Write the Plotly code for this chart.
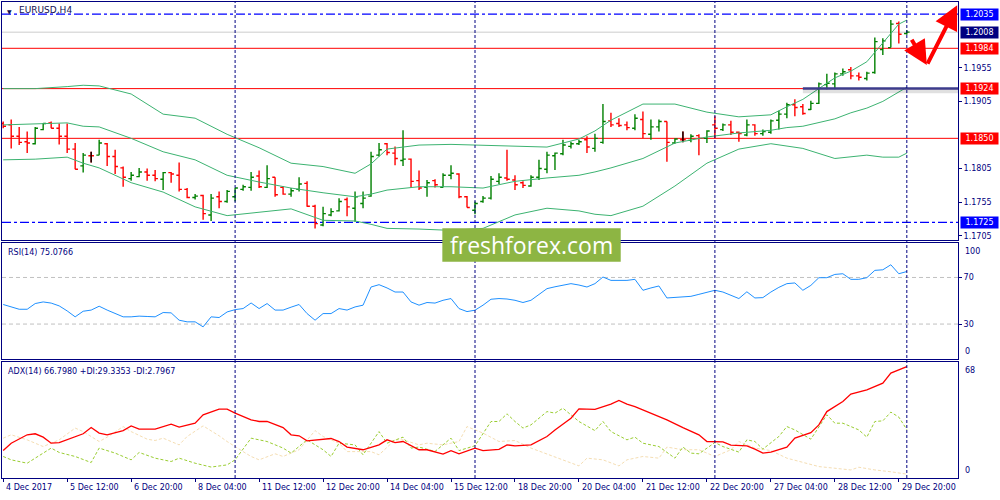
import plotly.graph_objects as go

NAVY = "#000080"
FONT = "DejaVu Sans"

# EURUSD H4 bars, index 0 = 4 Dec 2017, last = current bar
opens = [1.1872, 1.1870, 1.1853, 1.1845, 1.1842, 1.1863, 1.1873, 1.1865, 1.1853, 1.1834,
         1.1809, 1.1824, 1.1825, 1.1842, 1.1823, 1.1806, 1.1790, 1.1793, 1.1800, 1.1795,
         1.1789, 1.1799, 1.1795, 1.1774, 1.1762, 1.1765, 1.1736, 1.1763, 1.1756, 1.1763,
         1.1774, 1.1777, 1.1794, 1.1777, 1.1792, 1.1777, 1.1767, 1.1774, 1.1783, 1.1749,
         1.1721, 1.1736, 1.1742, 1.1759, 1.1746, 1.1753, 1.1764, 1.1825, 1.1842, 1.1828,
         1.1817, 1.1819, 1.1787, 1.1777, 1.1787, 1.1777, 1.1795, 1.1797, 1.1763, 1.1743,
         1.1756, 1.1761, 1.1786, 1.1791, 1.1788, 1.1784, 1.1779, 1.1792, 1.1804, 1.1824,
         1.1827, 1.1838, 1.1842, 1.1848, 1.1835, 1.1844, 1.1876, 1.1872, 1.1870, 1.1865,
         1.1878, 1.1856, 1.1867, 1.1875, 1.1843, 1.1848, 1.1847, 1.1854, 1.1850, 1.1870,
         1.1863, 1.1870, 1.1859, 1.1855, 1.1870, 1.1857, 1.1859, 1.1877, 1.1886, 1.1900,
         1.1897, 1.1893, 1.1902, 1.1930, 1.1931, 1.1946, 1.1952, 1.1943, 1.1939, 1.1948,
         1.1982, 1.1985, 1.2021, 1.2006]
highs = [1.1875, 1.1878, 1.1867, 1.1860, 1.1867, 1.1873, 1.1875, 1.1872, 1.1872, 1.1843,
         1.1828, 1.1830, 1.1848, 1.1843, 1.1833, 1.1808, 1.1800, 1.1806, 1.1805, 1.1803,
         1.1800, 1.1800, 1.1814, 1.1776, 1.1767, 1.1766, 1.1767, 1.1771, 1.1773, 1.1776,
         1.1781, 1.1800, 1.1802, 1.1810, 1.1792, 1.1779, 1.1776, 1.1792, 1.1786, 1.1751,
         1.1748, 1.1746, 1.1761, 1.1762, 1.1771, 1.1771, 1.1830, 1.1843, 1.1843, 1.1838,
         1.1862, 1.1820, 1.1802, 1.1788, 1.1789, 1.1798, 1.1810, 1.1798, 1.1764, 1.1756,
         1.1764, 1.1794, 1.1798, 1.1833, 1.1795, 1.1786, 1.1795, 1.1818, 1.1830, 1.1829,
         1.1848, 1.1845, 1.1848, 1.1853, 1.1857, 1.1901, 1.1888, 1.1880, 1.1875, 1.1886,
         1.1890, 1.1878, 1.1878, 1.1875, 1.1850, 1.1860, 1.1856, 1.1856, 1.1862, 1.1883,
         1.1872, 1.1876, 1.1860, 1.1878, 1.1871, 1.1863, 1.1878, 1.1891, 1.1903, 1.1908,
         1.1901, 1.1906, 1.1933, 1.1946, 1.1948, 1.1954, 1.1956, 1.1948, 1.1949, 1.2000,
         1.1999, 1.2026, 1.2024, 1.2011]
lows = [1.1865, 1.1835, 1.1840, 1.1828, 1.1841, 1.1862, 1.1865, 1.1841, 1.1828, 1.1804,
        1.1799, 1.1814, 1.1825, 1.1809, 1.1797, 1.1778, 1.1787, 1.1792, 1.1787, 1.1786,
        1.1773, 1.1784, 1.1771, 1.1761, 1.1759, 1.1729, 1.1727, 1.1746, 1.1754, 1.1756,
        1.1772, 1.1772, 1.1776, 1.1776, 1.1763, 1.1766, 1.1763, 1.1771, 1.1748, 1.1716,
        1.1719, 1.1734, 1.1741, 1.1734, 1.1726, 1.1746, 1.1763, 1.1823, 1.1825, 1.1810,
        1.1809, 1.1776, 1.1773, 1.1763, 1.1777, 1.1777, 1.1789, 1.1761, 1.1747, 1.1737,
        1.1754, 1.1759, 1.1782, 1.1787, 1.1773, 1.1776, 1.1778, 1.1788, 1.1798, 1.1803,
        1.1825, 1.1835, 1.1840, 1.1828, 1.1830, 1.1842, 1.1867, 1.1867, 1.1862, 1.1862,
        1.1850, 1.1848, 1.1860, 1.1815, 1.1842, 1.1844, 1.1844, 1.1825, 1.1843, 1.1850,
        1.1861, 1.1855, 1.1845, 1.1853, 1.1854, 1.1854, 1.1857, 1.1863, 1.1880, 1.1883,
        1.1885, 1.1892, 1.1901, 1.1923, 1.1923, 1.1943, 1.1938, 1.1936, 1.1936, 1.1946,
        1.1974, 1.1985, 1.1991, 1.2004]
closes = [1.1868, 1.1853, 1.1844, 1.1843, 1.1865, 1.1872, 1.1865, 1.1853, 1.1834, 1.1804,
          1.1825, 1.1824, 1.1843, 1.1823, 1.1808, 1.1792, 1.1795, 1.1800, 1.1795, 1.1790,
          1.1799, 1.1797, 1.1774, 1.1762, 1.1764, 1.1738, 1.1761, 1.1756, 1.1771, 1.1776,
          1.1778, 1.1792, 1.1778, 1.1790, 1.1766, 1.1767, 1.1772, 1.1782, 1.1749, 1.1723,
          1.1738, 1.1741, 1.1756, 1.1748, 1.1763, 1.1761, 1.1823, 1.1833, 1.1829, 1.1820,
          1.1819, 1.1786, 1.1776, 1.1784, 1.1781, 1.1795, 1.1798, 1.1763, 1.1747, 1.1753,
          1.1761, 1.1789, 1.1792, 1.1789, 1.1781, 1.1780, 1.1792, 1.1805, 1.1825, 1.1828,
          1.1840, 1.1842, 1.1845, 1.1837, 1.1850, 1.1875, 1.1870, 1.1869, 1.1866, 1.1880,
          1.1857, 1.1867, 1.1875, 1.1844, 1.1849, 1.1848, 1.1853, 1.1850, 1.1861, 1.1865,
          1.1870, 1.1859, 1.1857, 1.1870, 1.1857, 1.1860, 1.1876, 1.1886, 1.1900, 1.1896,
          1.1887, 1.1902, 1.1931, 1.1932, 1.1946, 1.1949, 1.1943, 1.1941, 1.1947, 1.1994,
          1.1995, 1.2020, 1.2005, 1.2008]

band_bars = [0, 4, 8, 10, 12, 16, 20, 24, 28, 32, 36, 40, 44, 46, 48, 52, 56, 60, 64, 68,
             72, 74, 76, 80, 84, 88, 92, 96, 98, 100, 104, 106, 108, 110, 112, 113]
band_upper = [1.1924, 1.1924, 1.1927, 1.1929, 1.1928, 1.1916, 1.1886, 1.1880, 1.1856, 1.1836,
              1.1813, 1.1808, 1.1798, 1.1812, 1.1834, 1.1840, 1.1841, 1.1840, 1.1839, 1.1837,
              1.1849, 1.1861, 1.1877, 1.1901, 1.1901, 1.1889, 1.1882, 1.1885, 1.1897, 1.1908,
              1.1940, 1.1950, 1.1964, 1.1992, 1.2020, 1.2026]
band_mid = [1.1870, 1.1871, 1.1873, 1.1868, 1.1867, 1.1850, 1.1830, 1.1818, 1.1795, 1.1785,
            1.1776, 1.1769, 1.1763, 1.1767, 1.1773, 1.1778, 1.1778, 1.1776, 1.1786, 1.1791,
            1.1795, 1.1800, 1.1806, 1.1820, 1.1843, 1.1852, 1.1858, 1.1862, 1.1866, 1.1868,
            1.1879, 1.1888, 1.1895, 1.1905, 1.1919, 1.1926]
band_lower = [1.1818, 1.1819, 1.1822, 1.1813, 1.1806, 1.1784, 1.1770, 1.1748, 1.1735, 1.1740,
              1.1745, 1.1728, 1.1727, 1.1722, 1.1716, 1.1715, 1.1713, 1.1716, 1.1736, 1.1746,
              1.1742, 1.1737, 1.1735, 1.1749, 1.1779, 1.1813, 1.1834, 1.1842, 1.1839, 1.1835,
              1.1820, 1.1822, 1.1825, 1.1822, 1.1822, 1.1828]

# RSI(14), one value per bar
rsi = [46.8, 44.7, 42.7, 42.7, 47.6, 49.0, 48.0, 45.6, 41.3, 36.2,
       41.0, 42.0, 45.3, 42.0, 39.0, 36.2, 36.2, 36.8, 36.5, 36.2,
       39.9, 39.6, 33.3, 31.9, 31.9, 27.6, 36.2, 35.6, 40.4, 42.4,
       43.3, 48.1, 43.3, 47.6, 42.0, 42.0, 44.5, 46.8, 39.0, 33.3,
       39.0, 39.0, 43.3, 42.0, 44.7, 46.2, 61.8, 63.8, 61.0, 57.5,
       57.5, 49.0, 46.2, 48.5, 48.0, 50.4, 51.9, 43.3, 40.7, 41.9,
       46.2, 51.3, 51.9, 51.5, 50.4, 48.5, 50.4, 55.5, 60.4, 62.0,
       63.2, 64.7, 63.5, 61.8, 64.7, 70.4, 67.5, 67.5, 67.5, 68.4,
       59.0, 61.0, 62.7, 52.4, 53.0, 53.3, 53.8, 55.5, 57.0, 59.0,
       57.5, 54.5, 51.9, 57.7, 52.4, 52.7, 57.5, 61.5, 64.7, 65.3,
       59.0, 63.2, 69.8, 69.8, 72.6, 73.2, 68.4, 68.4, 69.8, 76.1,
       76.6, 80.9, 73.2, 75.1]
rsi_levels = [30, 70]

adx_bars = [0, 1, 3, 4, 5, 6, 7, 8, 10, 11, 12, 13, 15, 16, 17, 19, 21, 22, 24, 25,
            27, 28, 29, 31, 32, 33, 35, 36, 37, 38, 40, 41, 42, 43, 45, 47, 48, 49, 50, 52,
            53, 55, 56, 57, 59, 60, 62, 63, 64, 66, 68, 69, 71, 72, 74, 76, 77, 78, 79, 81,
            83, 85, 87, 88, 90, 91, 93, 94, 95, 96, 98, 99, 101, 102, 103, 105, 106, 108, 110, 111,
            113]
adx = [16.8, 21.2, 26.2, 26.8, 24.8, 21.2, 21.6, 23.2, 26.8, 30.5, 27.2, 26.2, 28.7, 31.5, 29.6, 29.6, 32.5, 30.8, 33.1, 38.1,
       41.5, 41.5, 39.1, 35.1, 34.1, 34.1, 30.5, 26.2, 25.6, 22.6, 23.6, 24.0, 22.2, 18.9, 17.3, 20.2, 23.2, 21.6, 22.2, 17.3,
       17.3, 14.7, 16.8, 14.9, 18.3, 16.8, 17.5, 20.2, 19.6, 20.2, 25.2, 29.1, 36.1, 41.6, 41.3, 44.4, 46.6, 44.4, 43.0, 39.1,
       35.1, 30.5, 26.2, 22.2, 22.0, 20.0, 19.6, 17.7, 15.3, 15.9, 18.9, 24.2, 27.5, 32.1, 40.0, 46.0, 50.4, 52.9, 56.9, 62.9,
       66.8]
pdi_bars = [0, 1, 3, 4, 6, 7, 9, 11, 12, 14, 16, 17, 19, 21, 22, 24, 26, 28, 29, 31,
            32, 33, 35, 36, 38, 40, 41, 42, 44, 45, 47, 48, 50, 51, 52, 54, 56, 57, 59, 61,
            62, 63, 64, 65, 66, 68, 69, 70, 72, 74, 75, 76, 78, 79, 80, 82, 84, 85, 86, 87,
            89, 90, 92, 93, 94, 95, 97, 98, 99, 101, 103, 104, 105, 107, 108, 109, 110, 111, 112, 113]
pdi = [13.3, 11.3, 9.3, 12.3, 18.3, 15.7, 13.3, 9.7, 18.3, 15.3, 11.3, 15.7, 12.3, 10.3, 12.3, 9.3, 7.0, 8.3, 11.3, 24.2,
       23.0, 22.2, 18.3, 15.3, 23.2, 17.3, 13.3, 21.2, 20.2, 14.3, 28.1, 21.2, 24.8, 18.3, 18.9, 16.3, 24.2, 16.8, 19.7, 34.1,
       34.1, 38.7, 34.1, 30.2, 32.1, 40.0, 39.1, 42.0, 34.1, 28.7, 34.1, 28.1, 23.2, 24.8, 21.2, 19.2, 12.3, 18.9, 15.3, 14.9,
       21.6, 19.2, 15.9, 23.2, 22.2, 17.7, 25.2, 31.1, 29.1, 23.6, 38.1, 33.1, 33.1, 29.1, 24.8, 34.1, 34.5, 39.7, 36.7, 29.3]
mdi_bars = [0, 1, 3, 4, 5, 6, 7, 9, 10, 12, 13, 15, 16, 18, 19, 20, 22, 23, 25, 27,
            28, 30, 31, 32, 34, 35, 37, 39, 40, 42, 43, 46, 47, 49, 50, 52, 53, 55, 57, 58,
            60, 62, 64, 66, 68, 70, 72, 73, 75, 77, 78, 80, 82, 83, 85, 87, 89, 91, 92, 94,
            96, 98, 100, 102, 104, 106, 107, 109, 111, 113]
mdi = [24.2, 26.2, 23.2, 21.2, 19.2, 21.2, 23.2, 30.2, 28.1, 22.2, 24.8, 31.1, 28.1, 23.6, 22.8, 24.2, 20.2, 25.2, 31.5, 25.6,
       22.2, 16.2, 13.3, 11.3, 14.9, 13.3, 17.3, 28.7, 25.2, 21.2, 16.2, 16.2, 14.3, 23.2, 23.2, 20.2, 21.2, 20.2, 22.2, 31.1,
       27.2, 22.2, 22.8, 18.3, 14.7, 10.9, 7.7, 12.3, 11.3, 7.7, 11.3, 13.3, 12.3, 18.9, 17.3, 17.3, 13.3, 17.3, 22.2, 18.3,
       16.8, 12.3, 9.7, 7.3, 6.3, 5.3, 6.9, 5.3, 4.2, 2.8]

# chart objects
red_levels = [1.1984, 1.1924, 1.1850]
blue_levels = [1.2035, 1.1725]
bid_level = 1.2008
trend_level = 1.1924
trend_start = 100
separator_bars = [29, 59, 89, 113]
arrow_x = [113.5, 115.5, 119.3]
arrow_y = [1.1999, 1.1959, 1.2048]

price_ticks = [1.1955, 1.1905, 1.1805, 1.1755, 1.1705]
price_boxes = [(1.2035, "#0000ff"), (1.2008, NAVY), (1.1984, "#ff0000"),
               (1.1924, "#ff0000"), (1.1850, "#ff0000"), (1.1725, "#0000ff")]

label_bars = [0, 8, 16, 24, 32, 40, 48, 56, 64, 72, 80, 88, 96, 104, 112]
label_text = ["4 Dec 2017", "5 Dec 12:00", "6 Dec 20:00", "8 Dec 04:00", "11 Dec 12:00",
              "12 Dec 20:00", "14 Dec 04:00", "15 Dec 12:00", "18 Dec 20:00", "20 Dec 04:00",
              "21 Dec 12:00", "22 Dec 20:00", "27 Dec 04:00", "28 Dec 12:00", "29 Dec 20:00"]

x_range = [-0.15, 119.4]
bars = list(range(len(closes)))

fig = go.Figure()

for vals in (band_upper, band_mid, band_lower):
    fig.add_trace(go.Scatter(x=band_bars, y=vals, mode="lines", hoverinfo="skip",
                             line=dict(color="#3cb371", width=1), xaxis="x", yaxis="y"))

fig.add_trace(go.Ohlc(x=bars, open=opens, high=highs, low=lows, close=closes,
                      increasing=dict(line=dict(color="#008000", width=1.4)),
                      decreasing=dict(line=dict(color="#ff0000", width=1.4)),
                      tickwidth=0.35, hoverinfo="skip", xaxis="x", yaxis="y"))

# doji bars are drawn black
flat = [i for i in bars if opens[i] == closes[i]]
gap = min(b - a for a, b in zip(flat, flat[1:]))
fig.add_trace(go.Ohlc(x=flat, open=[opens[i] for i in flat], high=[highs[i] for i in flat],
                      low=[lows[i] for i in flat], close=[closes[i] for i in flat],
                      increasing=dict(line=dict(color="black", width=1.4)),
                      decreasing=dict(line=dict(color="black", width=1.4)),
                      tickwidth=0.35 / gap, hoverinfo="skip", xaxis="x", yaxis="y"))

fig.add_trace(go.Scatter(x=bars, y=rsi, mode="lines", hoverinfo="skip",
                         line=dict(color="#1e90ff", width=1), xaxis="x2", yaxis="y2"))

fig.add_trace(go.Scatter(x=mdi_bars, y=mdi, mode="lines", hoverinfo="skip",
                         line=dict(color="#f5deb3", width=1, dash="3px,2px"), xaxis="x3", yaxis="y3"))
fig.add_trace(go.Scatter(x=pdi_bars, y=pdi, mode="lines", hoverinfo="skip",
                         line=dict(color="#9acd32", width=1, dash="3px,2px"), xaxis="x3", yaxis="y3"))
fig.add_trace(go.Scatter(x=adx_bars, y=adx, mode="lines", hoverinfo="skip",
                         line=dict(color="#ff0000", width=1.3), xaxis="x3", yaxis="y3"))

frame = dict(showline=True, mirror=True, linecolor=NAVY, linewidth=1,
             showgrid=False, zeroline=False)

fig.update_layout(
    width=1000, height=500,
    margin=dict(l=2, r=42, t=2, b=22),
    paper_bgcolor="white", plot_bgcolor="white",
    showlegend=False,
    font=dict(family=FONT, size=8, color=NAVY),
    xaxis=dict(domain=[0, 1], anchor="y", range=x_range, showticklabels=False,
               rangeslider=dict(visible=False), **frame),
    xaxis2=dict(domain=[0, 1], anchor="y2", matches="x", showticklabels=False, **frame),
    xaxis3=dict(domain=[0, 1], anchor="y3", matches="x", showticklabels=False,
                ticks="outside", tickvals=label_bars, ticklen=3, tickcolor=NAVY,
                rangeslider=dict(visible=False), **frame),
    yaxis=dict(domain=[0.5, 1], range=[1.16987, 1.20529], side="right",
               tickvals=price_ticks, ticktext=[f"{v:.4f}" for v in price_ticks],
               ticks="outside", ticklen=3, tickcolor=NAVY, **frame),
    yaxis2=dict(domain=[0.25, 0.4947], range=[0, 100], side="right",
                tickvals=rsi_levels, ticks="outside", ticklen=3, tickcolor=NAVY, **frame),
    yaxis3=dict(domain=[0, 0.2437], range=[0.5, 69.5], side="right",
                showticklabels=False, **frame),
)

# horizontal levels
for lv in red_levels:
    fig.add_shape(type="line", xref="paper", x0=0, x1=1, yref="y", y0=lv, y1=lv,
                  line=dict(color="#ff0000", width=1), layer="below")
for lv in blue_levels:
    fig.add_shape(type="line", xref="paper", x0=0, x1=1, yref="y", y0=lv, y1=lv,
                  line=dict(color="#0000ff", width=1.2, dash="dashdot"), layer="below")
fig.add_shape(type="line", xref="paper", x0=0, x1=1, yref="y", y0=bid_level, y1=bid_level,
              line=dict(color="#cccccc", width=1), layer="below")
fig.add_shape(type="line", xref="x", x0=trend_start, x1=x_range[1], yref="y",
              y0=trend_level - 0.0004, y1=trend_level - 0.0004,
              line=dict(color="rgba(0,0,0,0.12)", width=4))
fig.add_shape(type="line", xref="x", x0=trend_start, x1=x_range[1], yref="y",
              y0=trend_level, y1=trend_level, line=dict(color="#3c3c8c", width=2.5))

for lv in rsi_levels:
    fig.add_shape(type="line", xref="paper", x0=0, x1=1, yref="y2", y0=lv, y1=lv,
                  line=dict(color="#c0c0c0", width=1, dash="4px,3px"), layer="below")

# period separators through all panels
for b in separator_bars:
    fig.add_shape(type="line", xref="x", x0=b, x1=b, yref="paper", y0=0, y1=1,
                  line=dict(color=NAVY, width=1, dash="3px,2px"))

# red forecast arrows
for i in range(len(arrow_x) - 1):
    fig.add_annotation(x=arrow_x[i + 1], y=arrow_y[i + 1], ax=arrow_x[i], ay=arrow_y[i],
                       xref="x", yref="y", axref="x", ayref="y", text="", showarrow=True,
                       arrowhead=2, arrowsize=1.2, arrowwidth=4, arrowcolor="#ff0000")

# boxed price labels on the right scale
for val, col in price_boxes:
    fig.add_annotation(x=1, y=val, xref="paper", yref="y", xanchor="left", xshift=2,
                       text=f"{val:.4f}", showarrow=False, bgcolor=col, width=37, height=11,
                       borderpad=0, font=dict(family=FONT, size=8, color="white"))

# time labels, left aligned on their ticks
for b, t in zip(label_bars, label_text):
    fig.add_annotation(x=b, y=0, xref="x3", yref="y3 domain", xanchor="left", yanchor="top",
                       xshift=1, yshift=-3, text=t, showarrow=False,
                       font=dict(family=FONT, size=8, color=NAVY))

# range labels for the indicator windows
for ref, top, bottom in (("y2", "100", "0"), ("y3", "68", "0")):
    fig.add_annotation(x=1, y=1, xref="paper", yref=ref + " domain", xanchor="left",
                       yanchor="top", xshift=5, yshift=-2, text=top, showarrow=False)
    fig.add_annotation(x=1, y=0, xref="paper", yref=ref + " domain", xanchor="left",
                       yanchor="bottom", xshift=5, yshift=1, text=bottom, showarrow=False)

# window titles
fig.add_annotation(x=0, y=1, xref="paper", yref="y domain", xanchor="left", yanchor="top",
                   xshift=3, yshift=-4, text="▼", showarrow=False,
                   font=dict(family=FONT, size=6, color="#101050"))
fig.add_annotation(x=0, y=1, xref="paper", yref="y domain", xanchor="left", yanchor="top",
                   xshift=15, yshift=-1, text="EURUSD,H4", showarrow=False,
                   font=dict(family=FONT, size=9, color="#101050"))
fig.add_annotation(x=0, y=1, xref="paper", yref="y2 domain", xanchor="left", yanchor="top",
                   xshift=4, yshift=-3, text="RSI(14) 75.0766", showarrow=False)
fig.add_annotation(x=0, y=1, xref="paper", yref="y3 domain", xanchor="left", yanchor="top",
                   xshift=4, yshift=-3, text="ADX(14) 66.7980 +DI:29.3353 -DI:2.7967",
                   showarrow=False)

# watermark
fig.add_shape(type="rect", xref="paper", yref="paper", x0=0.4606, x1=0.6472, y0=0.4544, y1=0.5246,
              fillcolor="#8db543", line=dict(width=0), layer="above")
fig.add_annotation(x=0.5539, y=0.4895, xref="paper", yref="paper", text="freshforex.com",
                   showarrow=False, font=dict(family="Open Sans", size=23, color="white"))

# page body margin would push the chart 8px off the window
fig.write_html("out.html", config={"displayModeBar": False},
               post_script="document.body.style.margin='0';")
